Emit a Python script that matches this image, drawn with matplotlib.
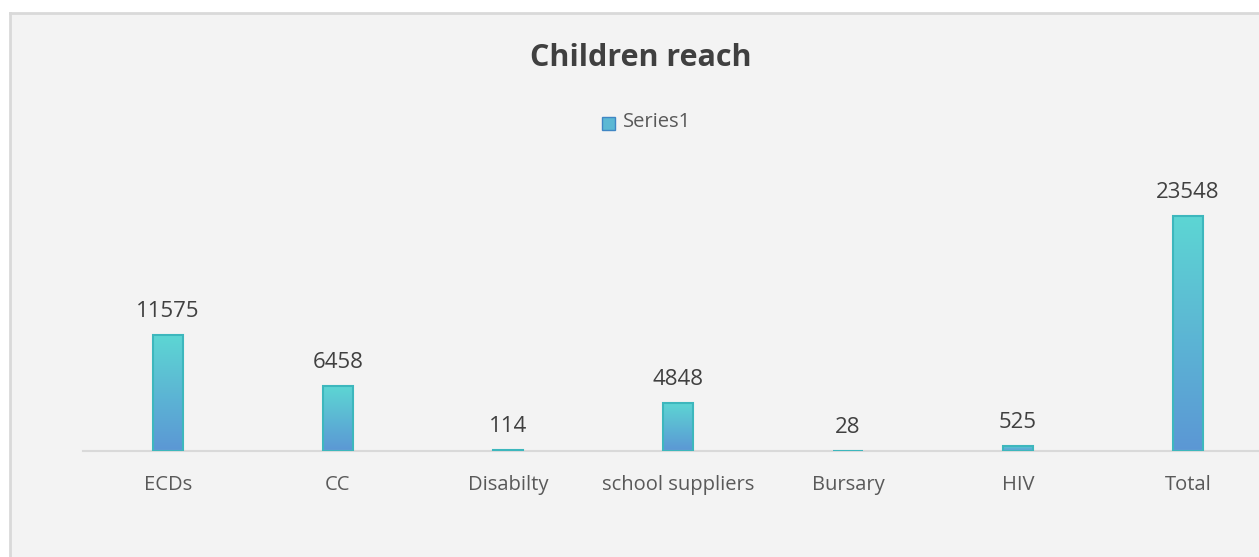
import numpy as np
import matplotlib.pyplot as plt
from matplotlib.patches import Rectangle
from matplotlib.colors import LinearSegmentedColormap

# data
categories = ['ECDs', 'CC', 'Disabilty', 'school suppliers', 'Bursary', 'HIV', 'Total']
values = [11575, 6458, 114, 4848, 28, 525, 23548]
series_name = 'Series1'

# colors
top_c = '#5dd6d3'
bot_c = '#5b97d5'
edge_c = '#3db7bd'
txt = '#404040'
grid_c = '#d9d9d9'

plt.rcParams['font.family'] = ['Open Sans', 'DejaVu Sans']

fig = plt.figure(figsize=(12.59, 5.57), dpi=100)
fig.patch.set_facecolor('white')

# chart area panel (background axes)
bg = fig.add_axes([10/1259, -0.1, 1.2, (557-13)/557 + 0.1], zorder=-10)
bg.set_xticks([])
bg.set_yticks([])
bg.set_facecolor('#f3f3f3')
for s in bg.spines.values():
    s.set_color(grid_c)
    s.set_linewidth(2)

ax = fig.add_axes([83/1259, (557-451)/557, 1190/1259, 250/557])
ax.set_facecolor('none')

cmap = LinearSegmentedColormap.from_list('g', [bot_c, top_c])
grad = np.linspace(0, 1, 256).reshape(-1, 1)
x = np.arange(len(categories))
w = 0.176
for xi, v in zip(x, values):
    ax.imshow(grad, extent=(xi - w/2, xi + w/2, 0, v), origin='lower',
              cmap=cmap, aspect='auto', zorder=2)
    ax.add_patch(Rectangle((xi - w/2, 0), w, v, fill=False, edgecolor=edge_c,
                           lw=1.5, zorder=3))
    ax.text(xi, v + 1300, str(v), ha='center', va='bottom', fontsize=16, color=txt)

ax.set_xlim(-0.5, len(categories) - 0.5)
ax.set_ylim(0, 25000)
for s in ['top', 'right', 'left']:
    ax.spines[s].set_visible(False)
ax.spines['bottom'].set_color(grid_c)
ax.spines['bottom'].set_linewidth(1.5)
ax.set_yticks([])
ax.set_xticks(x)
ax.set_xticklabels(categories, fontsize=14.5, color='#595959')
ax.tick_params(axis='x', length=0, pad=17)

fig.text(641/1259, 1 - 58/557, 'Children reach', ha='center', va='center',
         fontsize=22, fontweight='bold', color=txt)
# legend
fig.patches.append(Rectangle((602/1259, 1 - 130/557), 13/1259, 13/557,
                             transform=fig.transFigure, facecolor='#5bb8d4',
                             edgecolor='#3f86c4', lw=1))
fig.text(623/1259, 1 - 122/557, series_name, ha='left', va='center',
         fontsize=14.5, color='#595959')

fig.savefig('out.png', dpi=100)
